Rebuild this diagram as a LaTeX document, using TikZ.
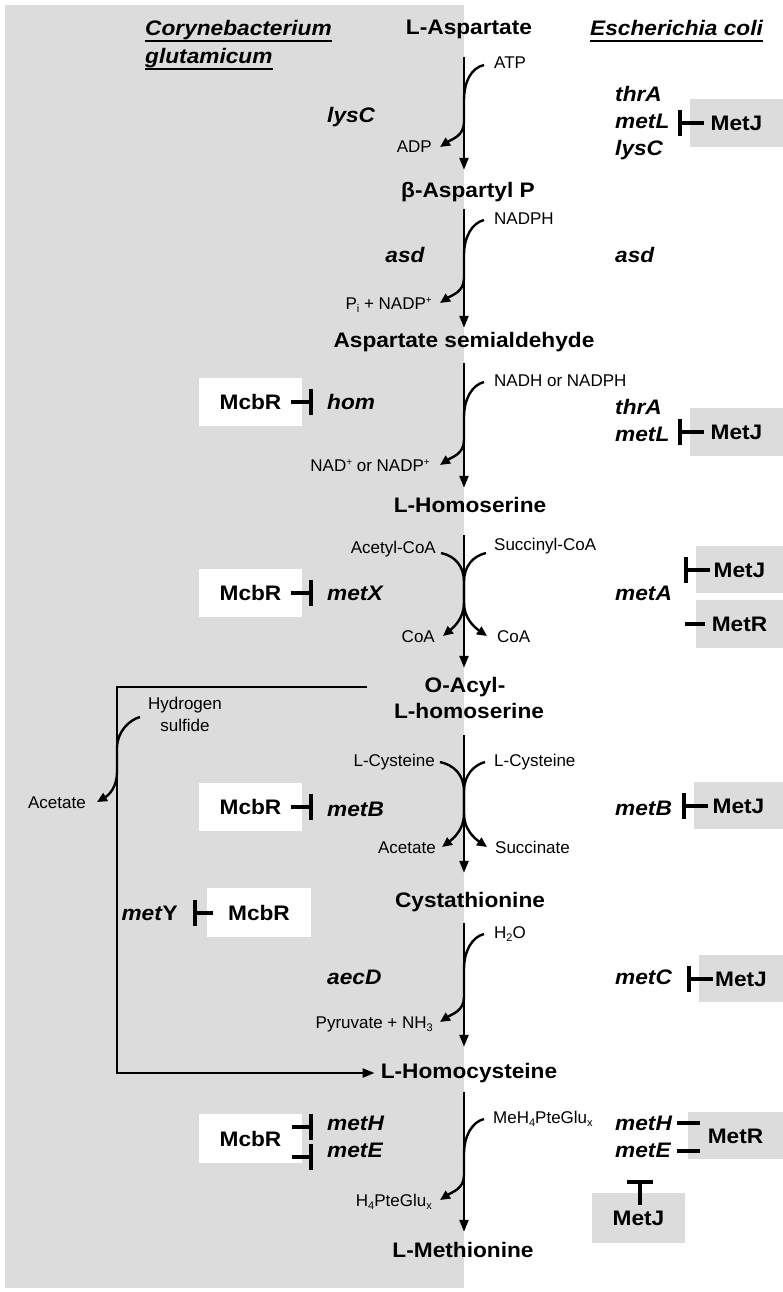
\documentclass[tikz,border=0pt]{standalone}
\usepackage{fontspec}
\setmainfont{Liberation Sans}
\newfontfamily\bigfam{Liberation Sans}[FakeStretch=1.08]
\usetikzlibrary{arrows.meta,calc}
\definecolor{panel}{RGB}{220,220,220}
\newcommand\lowtxt[1]{\raisebox{-0.35ex}{\fontsize{11}{11}\selectfont #1}}
\newcommand\uptxt[1]{\raisebox{0.65ex}{\fontsize{10}{10}\selectfont #1}}
\tikzset{
  metab/.style={font=\bigfam\bfseries\fontsize{21}{25}\selectfont, inner sep=0pt, text height=15pt, text depth=0pt},
  gene/.style={font=\bigfam\bfseries\itshape\fontsize{21}{25}\selectfont, inner sep=0pt, text height=15pt, text depth=0pt},
  cofac/.style={font=\fontsize{17}{20}\selectfont, inner sep=0pt, text height=12pt, text depth=0pt},
  regbox/.style={metab, fill=white, minimum width=103pt, minimum height=48pt},
  ecbox/.style={metab, fill=panel},
  rxn/.style={line width=2.3pt, -{Triangle[length=12pt,width=9pt]}},
  side/.style={line width=2.4pt, -{Triangle[length=10pt,width=9pt]}},
  inh/.style={line width=4pt, -{Bar[width=26pt]}},
  plainbar/.style={line width=4pt},
}
\begin{document}
\begin{tikzpicture}[x=1pt,y=-1pt]
\useasboundingbox (0,0) rectangle (783,1292);
\fill[white] (0,0) rectangle (783,1292);
% shaded half for C. glutamicum
\fill[panel] (5,5) rectangle (464,1288);
\coordinate (ax) at (464,0);

% organism headings
\node[gene, anchor=west] (cory) at (145,28) {Corynebacterium};
\node[gene, anchor=west] (glut) at (145,56) {glutamicum};
\node[gene, anchor=west] (ecoli) at (590,28) {Escherichia coli};
\foreach \nm in {cory,glut,ecoli}
  \draw[line width=1.8pt] ($(\nm.south west)+(0,5)$) -- ($(\nm.south east)+(0,5)$);

% metabolites of the pathway
\node[metab] (asp)  at (469,27)   {L-Aspartate};
\node[metab] (basp) at (468,190)  {β-Aspartyl P};
\node[metab] (asa)  at (464,340)  {Aspartate semialdehyde};
\node[metab] (hse)  at (470,505)  {L-Homoserine};
\node[metab] (oah1) at (465,685)  {O-Acyl-};
\node[metab] (oah2) at (469,711)  {L-homoserine};
\node[metab] (cth)  at (470,900)  {Cystathionine};
\node[metab] (hcy)  at (469,1071) {L-Homocysteine};
\node[metab] (met)  at (463,1250) {L-Methionine};

% main reaction arrows
\draw[rxn, shorten <=22.5pt, shorten >=12.5pt] (asp.south -| ax)  -- (basp.north -| ax);
\draw[rxn, shorten <=11.5pt, shorten >=4.5pt]  (basp.south -| ax) -- (asa.north -| ax);
\draw[rxn, shorten <=15.5pt, shorten >=9.5pt]  (asa.south -| ax)  -- (hse.north -| ax);
\draw[rxn, shorten <=22.5pt, shorten >=9.5pt]  (hse.south -| ax)  -- (oah1.north -| ax);
\draw[rxn, shorten <=16.5pt, shorten >=19.5pt] (oah2.south -| ax) -- (cth.north -| ax);
\draw[rxn, shorten <=15.5pt, shorten >=16.5pt] (cth.south -| ax)  -- (hcy.north -| ax);
\draw[rxn, shorten <=13.5pt, shorten >=10.5pt] (hcy.south -| ax)  -- (met.north -| ax);

% co-substrates and co-products
\node[cofac, anchor=west] (atp)   at (494,63)   {ATP};
\node[cofac, anchor=east] (adp)   at (432,147)  {ADP};
\node[cofac, anchor=west] (nadph) at (494,218)  {NADPH};
\node[cofac, anchor=east] (pinadp) at (432,303) {P\lowtxt{i} + NADP\uptxt{+}};
\node[cofac, anchor=west] (nadh)  at (494,380)  {NADH or NADPH};
\node[cofac, anchor=east] (nadp)  at (430,465)  {NAD\uptxt{+} or NADP\uptxt{+}};
\node[cofac, anchor=east] (acoa)  at (436,547)  {Acetyl-CoA};
\node[cofac, anchor=west] (scoa)  at (494,544)  {Succinyl-CoA};
\node[cofac, anchor=east] (coaL)  at (435,636)  {CoA};
\node[cofac, anchor=west] (coaR)  at (497,636)  {CoA};
\node[cofac, anchor=east] (cysL)  at (435,760)  {L-Cysteine};
\node[cofac, anchor=west] (cysR)  at (494,760)  {L-Cysteine};
\node[cofac, anchor=east] (acL)   at (436,847)  {Acetate};
\node[cofac, anchor=west] (succ)  at (495,847)  {Succinate};
\node[cofac, anchor=west] (water) at (494,932)  {H\lowtxt{2}O};
\node[cofac, anchor=east] (pyr)   at (433,1022) {Pyruvate + NH\lowtxt{3}};
\node[cofac, anchor=west] (mefol) at (493,1117) {MeH\lowtxt{4}PteGlu\lowtxt{x}};
\node[cofac, anchor=east] (fol)   at (432,1200) {H\lowtxt{4}PteGlu\lowtxt{x}};
\node[cofac] (hyd)  at (185,703) {Hydrogen};
\node[cofac] (sulf) at (185,725) {sulfide};
\node[cofac, anchor=east] (acS) at (86,802) {Acetate};

% side reactions joining the main arrows
\draw[side] ($(atp.west)+(-10,2)$) .. controls (471,68) and (464,82) .. (464,100)
  -- (464,122) .. controls (464,136) and (452,139) .. ($(adp.east)+(8,0)$);
\draw[side] ($(nadph.west)+(-10,2)$) .. controls (472,223) and (464,237) .. (464,255)
  -- (464,278) .. controls (464,292) and (452,295) .. ($(pinadp.east)+(8,0)$);
\draw[side] ($(nadh.west)+(-10,2)$) .. controls (472,385) and (464,399) .. (464,417)
  -- (464,440) .. controls (464,454) and (452,457) .. ($(nadp.east)+(10,0)$);
\draw[side] ($(acoa.east)+(5,6)$) .. controls (455,556) and (464,566) .. (464,582)
  -- (464,603) .. controls (464,618) and (454,627) .. ($(coaL.east)+(8,0)$);
\draw[side] ($(scoa.west)+(-8,9)$) .. controls (473,556) and (464,566) .. (464,582)
  -- (464,603) .. controls (464,618) and (474,627) .. ($(coaR.west)+(-10,0)$);
\draw[side] ($(cysL.east)+(5,2)$) .. controls (454,765) and (464,775) .. (464,791)
  -- (464,814) .. controls (464,829) and (454,838) .. ($(acL.east)+(6,0)$);
\draw[side] ($(cysR.west)+(-9,2)$) .. controls (474,765) and (464,775) .. (464,791)
  -- (464,814) .. controls (464,829) and (474,838) .. ($(succ.west)+(-8,0)$);
\draw[side] ($(water.west)+(-10,2)$) .. controls (472,937) and (464,951) .. (464,969)
  -- (464,997) .. controls (464,1011) and (452,1014) .. ($(pyr.east)+(7,0)$);
\draw[side] ($(mefol.west)+(-9,2)$) .. controls (472,1122) and (464,1136) .. (464,1154)
  -- (464,1175) .. controls (464,1189) and (452,1192) .. ($(fol.east)+(8,0)$);

% direct sulfhydrylation branch
\coordinate (bend) at (117,1073);
\draw[line width=2.3pt, -{Triangle[length=12pt,width=9pt]}]
  ($(oah1.west)+(-57,2)$) -| (bend) -- ($(hcy.west)+(-6,2)$);
\draw[side] ($(hyd.west)+(-8,14)$) .. controls (129,720) and (117,732) .. (117,748)
  -- (117,772) .. controls (117,787) and (109,795) .. ($(acS.east)+(11,0)$);

% C. glutamicum genes
\node[gene, anchor=west] (lysCc) at (327,115)  {lysC};
\node[gene]              (asdC)  at (405,255)  {asd};
\node[gene, anchor=west] (hom)   at (327,402)  {hom};
\node[gene, anchor=west] (metX)  at (327,593)  {metX};
\node[gene, anchor=west] (metBc) at (327,809)  {metB};
\node[gene, anchor=west] (aecD)  at (327,977)  {aecD};
\node[gene, anchor=west] (metHc) at (327,1123) {metH};
\node[gene, anchor=west] (metEc) at (327,1150) {metE};
\node[gene, anchor=east] (metY)  at (178,913)  {met\textup{Y}};

% McbR repressor boxes
\node[regbox] (mc1) at (250.5,402)  {McbR};
\node[regbox] (mc2) at (250.5,593)  {McbR};
\node[regbox] (mc3) at (250.5,807)  {McbR};
\node[regbox, minimum width=104pt, minimum height=49pt] (mcY) at (259,912.5) {McbR};
\node[regbox, minimum height=49pt] (mc4) at (250.5,1138.5) {McbR};
\draw[inh] ($(mc1.east)+(-11,0)$) -- ($(mc1.east)+(11,0)$);
\draw[inh] ($(mc2.east)+(-11,0)$) -- ($(mc2.east)+(11,0)$);
\draw[inh] ($(mc3.east)+(-11,0)$) -- ($(mc3.east)+(11,0)$);
\draw[inh] ($(mcY.west)+(6,0)$) -- ($(mcY.west)+(-14,0)$);
\draw[inh] ($(mc4.east)+(-10,-11.5)$) -- ($(mc4.east)+(11,-11.5)$);
\draw[inh] ($(mc4.east)+(-10,18.5)$) -- ($(mc4.east)+(11,18.5)$);

% E. coli genes
\node[gene, anchor=west] (thrA1) at (615,94)   {thrA};
\node[gene, anchor=west] (metL1) at (615,121)  {metL};
\node[gene, anchor=west] (lysCe) at (615,148)  {lysC};
\node[gene, anchor=west] (asdE)  at (615,255)  {asd};
\node[gene, anchor=west] (thrA2) at (615,407)  {thrA};
\node[gene, anchor=west] (metL2) at (615,434)  {metL};
\node[gene, anchor=west] (metA)  at (615,593)  {metA};
\node[gene, anchor=west] (metBe) at (615,808)  {metB};
\node[gene, anchor=west] (metC)  at (615,977)  {metC};
\node[gene, anchor=west] (metHe) at (615,1123) {metH};
\node[gene, anchor=west] (metEe) at (615,1150) {metE};

% MetJ / MetR regulator boxes
\node[ecbox, minimum width=93pt, minimum height=48pt] (mj1) at (736.5,123)   {MetJ};
\node[ecbox, minimum width=93pt, minimum height=48pt] (mj2) at (736.5,432)   {MetJ};
\node[ecbox, minimum width=87pt, minimum height=47pt] (mj3) at (739.5,569.5) {MetJ};
\node[ecbox, minimum width=87pt, minimum height=48pt] (mr1) at (739.5,624)   {MetR};
\node[ecbox, minimum width=89pt, minimum height=47pt] (mj4) at (738.5,805.5) {MetJ};
\node[ecbox, minimum width=84pt, minimum height=47pt] (mj5) at (741,978.5)   {MetJ};
\node[ecbox, minimum width=95pt, minimum height=47pt] (mr2) at (735.5,1135.5) {MetR};
\node[ecbox, minimum width=93pt, minimum height=50pt] (mj6) at (638.5,1218)  {MetJ};

\foreach \bx in {mj1,mj2,mj3,mj4,mj5}
  \draw[inh] ($(\bx.west)+(14,0)$) -- ($(\bx.west)+(-12,0)$);
\draw[plainbar] ($(mr1.west)+(9,0)$) -- ($(mr1.west)+(-11,0)$);
\draw[plainbar] ($(mr2.west)+(12,-13)$) -- ($(mr2.west)+(-11,-13)$);
\draw[plainbar] ($(mr2.west)+(12,15.5)$) -- ($(mr2.west)+(-11,15.5)$);
\draw[inh] ($(mj6.north)+(1.5,12)$) -- ($(mj6.north)+(1.5,-13)$);
\end{tikzpicture}
\end{document}
